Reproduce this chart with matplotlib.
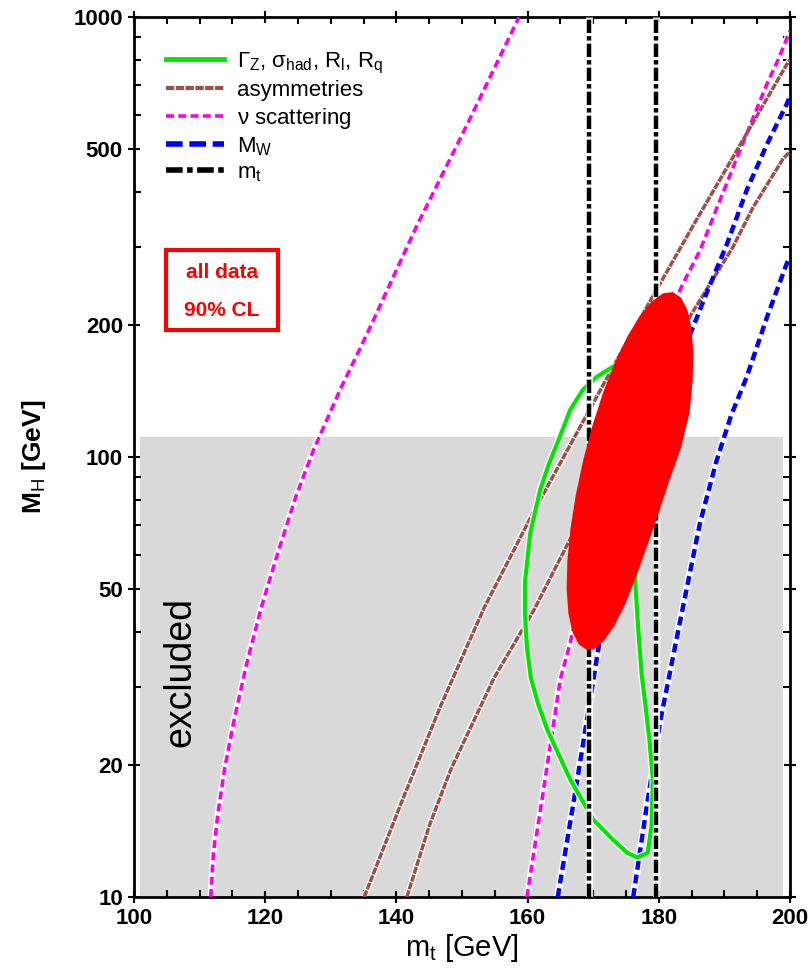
import matplotlib
matplotlib.use("Agg")
import matplotlib.pyplot as plt
from matplotlib.lines import Line2D
from matplotlib.patches import Rectangle
from matplotlib.ticker import FixedLocator, LogLocator, NullFormatter, MultipleLocator

plt.rcParams['font.family'] = ['Liberation Sans', 'DejaVu Sans']
plt.rcParams['mathtext.fontset'] = 'custom'
plt.rcParams['mathtext.rm'] = 'Liberation Sans'
plt.rcParams['mathtext.it'] = 'Liberation Sans'

# === данные (m_t [GeV], M_H [GeV]) ===
nu_left_mt = [111.7, 112.1, 112.8, 113.8, 115.2, 117.2, 119.5, 122.0, 124.7, 127.4, 131.5, 135.5, 143.1, 150.8, 158.7]
nu_left_mh = [10, 12.5, 15.5, 19.5, 25, 34, 46, 61, 81.5, 104, 143, 190, 335, 570, 1000]

nu_right_mt = [159.9, 162.5, 165.0, 166.5, 170, 175, 180, 183.7, 186.3, 188.3, 192.4, 196.5, 198.2, 200]
nu_right_mh = [10, 17.8, 31.3, 37.8, 66, 118, 187, 248, 295, 351, 499, 705, 800, 930]

asym_upper_mt = [135.1, 140.7, 146.8, 153.4, 160.9, 168.4, 173.6, 179.1, 185.2, 191.3, 199.5, 200]
asym_upper_mh = [10, 16.3, 27.3, 45.5, 75, 120, 166, 232, 335, 480, 780, 800]

asym_lower_mt = [141.6, 145, 148.3, 154.9, 161, 166, 172, 178, 185.2, 191.3, 194.4, 198.9, 200]
asym_lower_mh = [10, 14.5, 19.5, 31.5, 45, 63, 93, 142, 214, 300, 370, 475, 495]

mw_left_mt = [164.6, 167.4, 171.2, 175, 180, 185.2, 187.5, 190.4, 193.4, 196.5, 199.5, 200]
mw_left_mh = [10, 17.8, 40, 72, 128, 197, 240, 305, 404, 514, 634, 660]

mw_right_mt = [176.1, 178.2, 180.2, 183.2, 186.3, 188.8, 191.0, 193.4, 196.5, 199.5, 200]
mw_right_mh = [10, 16.2, 25, 42, 71, 98, 124, 152, 208, 275, 285]

mt_band = [169.4, 179.5]

gamma_mt = [173.6, 172.6, 170.5, 168.4, 166.5, 164.9, 163.2, 161.9, 160.4, 159.6, 159.6, 159.9,
            160.5, 161.6, 163.0, 166.5, 170.0, 173.0, 175.2, 176.7, 178.3, 178.9, 179.1, 178.6,
            178.0, 177.4, 176.9, 176.4, 176.6, 177.0, 176.7, 175.8, 174.8, 173.6]
gamma_mh = [162, 159, 152, 142, 128, 111, 96, 84, 67, 52, 44, 37,
            31.5, 27.5, 24, 18.5, 15, 13.5, 12.6, 12.3, 12.6, 14.5, 18.5, 22.5,
            27, 32, 40, 52, 70, 90, 115, 138, 152, 162]

fit_mt = [182.15, 183.41, 184.38, 185.00, 185.27, 185.16, 184.69, 183.41,
          181.51, 179.79, 178.01, 176.37, 174.80, 173.21, 171.68, 170.28,
          169.07, 167.81, 166.84, 166.22, 165.95, 166.06, 166.53, 167.35,
          168.49, 169.90, 171.53, 173.32, 175.20, 177.09, 178.93, 180.64]
fit_mh = [237.0, 230.1, 215.8, 196.0, 172.9, 148.9, 126.0, 105.3,
          87.6, 73.1, 61.5, 52.6, 46.0, 41.3, 38.3, 36.7,
          36.4, 37.5, 40.0, 44.1, 50.0, 58.0, 68.6, 82.0,
          98.5, 118.1, 140.4, 164.1, 187.8, 209.1, 225.7, 235.5]

excluded_mt = [100.9, 198.9]
excluded_mh = [10, 111]

x_ticks = [100, 120, 140, 160, 180, 200]
y_ticks = [10, 20, 50, 100, 200, 500, 1000]

GREEN = "#00e600"
BROWN = "#9c5048"
MAGENTA = "#ff00e6"
BLUE = "#0000ff"
BROWN_LS = (0, (2.0, 0.35))


def halo_line(ax, x, y, color, lw, ls, z):
    # светлая подложка под линией, затем сама линия
    ax.plot(x, y, color="white", lw=lw + 2.0, alpha=0.85, solid_capstyle="butt",
            solid_joinstyle="round", zorder=z - 0.5)
    ax.plot(x, y, color=color, lw=lw, linestyle=ls, dash_capstyle="butt",
            solid_joinstyle="round", zorder=z)


fig = plt.figure(figsize=(8.1, 9.72), dpi=100)
ax = fig.add_axes([134 / 810, 75 / 972, 656 / 810, 880 / 972])
ax.set_yscale("log")
ax.set_xlim(100, 200)
ax.set_ylim(10, 1000)

# область, исключённая прямым поиском
ax.fill_between(excluded_mt, excluded_mh[0], excluded_mh[1], color="#d9d9d9", lw=0, zorder=1)

halo_line(ax, nu_left_mt, nu_left_mh, MAGENTA, 2.6, (0, (2.2, 1.2)), 3)
halo_line(ax, nu_right_mt, nu_right_mh, MAGENTA, 2.6, (0, (2.2, 1.2)), 3)
halo_line(ax, asym_upper_mt, asym_upper_mh, BROWN, 2.5, BROWN_LS, 3)
halo_line(ax, asym_lower_mt, asym_lower_mh, BROWN, 2.5, BROWN_LS, 3)
halo_line(ax, mw_left_mt, mw_left_mh, BLUE, 3.2, (0, (2.0, 1.1)), 3)
halo_line(ax, mw_right_mt, mw_right_mh, BLUE, 3.2, (0, (2.0, 1.1)), 3)
halo_line(ax, gamma_mt, gamma_mh, GREEN, 3.0, "-", 4)
for m in mt_band:
    halo_line(ax, [m, m], [10, 1000], "black", 3.2, (0, (3.0, 0.7, 1.0, 0.7)), 5)

# эллипс общего фита
ax.fill(fit_mt, fit_mh, color="red", lw=0, zorder=6)

ax.set_xticks(x_ticks)
ax.xaxis.set_minor_locator(MultipleLocator(5))
ax.yaxis.set_major_locator(FixedLocator(y_ticks))
ax.yaxis.set_minor_locator(LogLocator(base=10, subs=range(2, 10)))
ax.yaxis.set_minor_formatter(NullFormatter())
ax.set_yticklabels([str(v) for v in y_ticks])
ax.set_xticklabels([str(v) for v in x_ticks])

ax.tick_params(which="both", top=True, right=True, width=1.5, labelsize=16)
ax.tick_params(which="major", direction="inout", length=9)
ax.tick_params(which="minor", direction="in", length=5)
for lab in ax.get_xticklabels() + ax.get_yticklabels():
    lab.set_fontweight("bold")
for s in ax.spines.values():
    s.set_linewidth(2)

ax.set_xlabel(r"m$_{\rm t}$ [GeV]", fontsize=21, labelpad=2)
ax.set_ylabel(r"M$_{\rm H}$ [GeV]", fontsize=19, fontweight="bold", labelpad=18)

handles = [
    Line2D([], [], color=GREEN, lw=3.5),
    Line2D([], [], color=BROWN, lw=3, linestyle=BROWN_LS),
    Line2D([], [], color=MAGENTA, lw=2.6, linestyle=(0, (2.2, 1.2))),
    Line2D([], [], color=BLUE, lw=4, linestyle=(0, (3.0, 1.2))),
    Line2D([], [], color="black", lw=4, linestyle=(0, (3.0, 0.8, 1.0, 0.8))),
]
labels = [
    r"$\Gamma_{\rm Z}$, $\sigma_{\rm had}$, R$_{\rm l}$, R$_{\rm q}$",
    "asymmetries",
    r"$\nu$ scattering",
    r"M$_{\rm W}$",
    r"m$_{\rm t}$",
]
ax.legend(handles, labels, loc="upper left", bbox_to_anchor=(0.035, 0.972), frameon=False,
          fontsize=16, handlelength=2.6, handletextpad=0.6, labelspacing=0.2, borderaxespad=0)

# рамка с подписью фита
ax.add_patch(Rectangle((0.0488, 0.6443), 0.1707, 0.0909, transform=ax.transAxes,
                       fc="white", ec="red", lw=3, zorder=8))
ax.text(0.134, 0.7102, "all data", transform=ax.transAxes, color="red",
        fontsize=15, fontweight="bold", ha="center", va="center", zorder=9)
ax.text(0.134, 0.667, "90% CL", transform=ax.transAxes, color="red",
        fontsize=15, fontweight="bold", ha="center", va="center", zorder=9)

ax.text(0.070, 0.256, "excluded", transform=ax.transAxes, rotation=90, fontsize=27,
        ha="center", va="center", zorder=8)

fig.savefig("out.png", dpi=100)
